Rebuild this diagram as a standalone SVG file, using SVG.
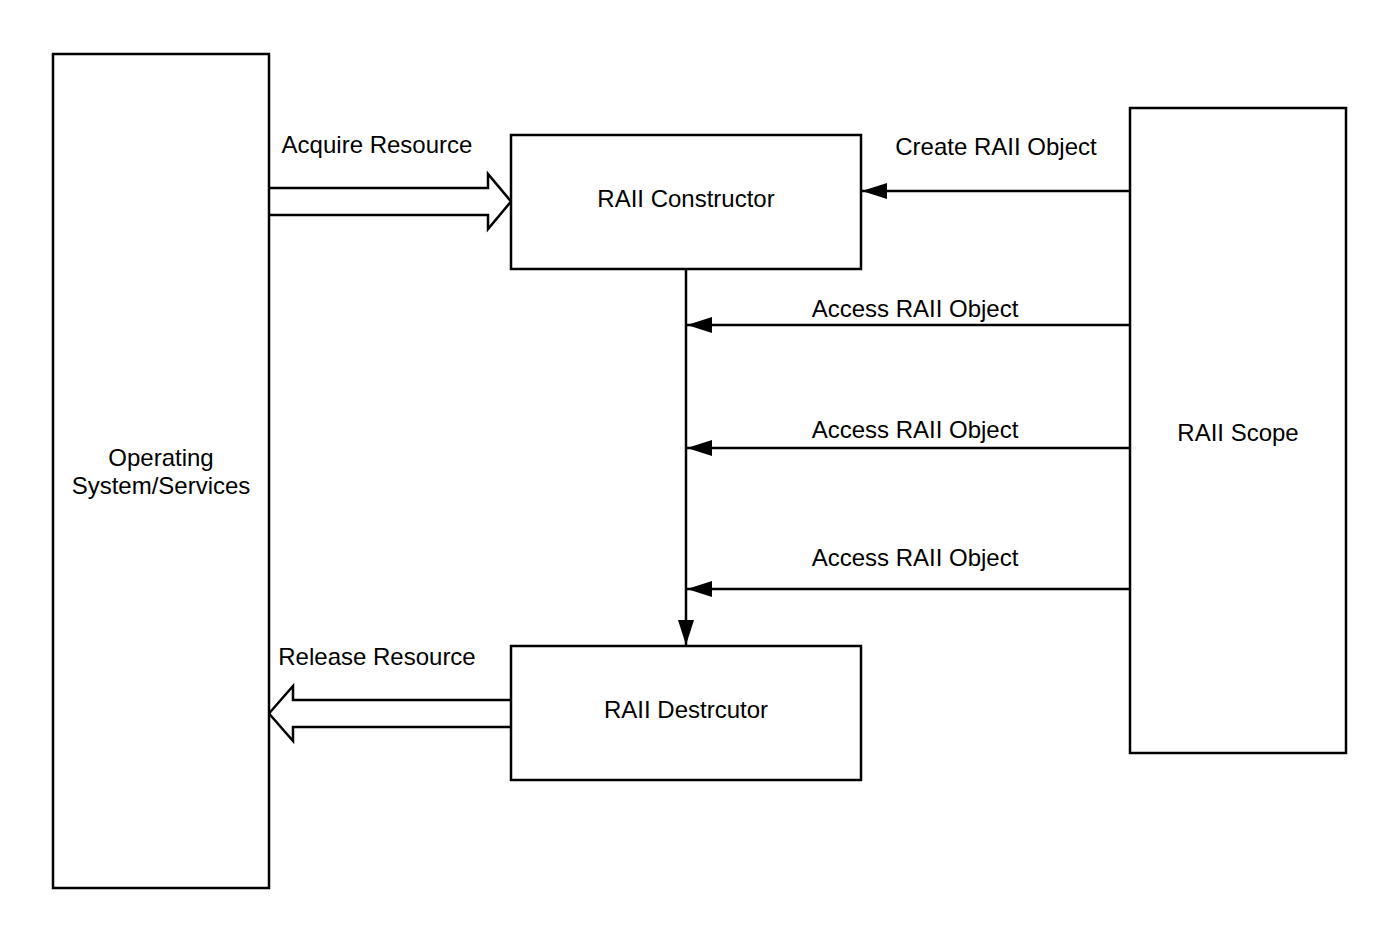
<svg xmlns="http://www.w3.org/2000/svg" width="1400" height="943" viewBox="0 0 1400 943">
<style>
.box{fill:#fff;stroke:#000;stroke-width:2.5}
.t{font-family:"Liberation Sans",Arial,sans-serif;font-size:24px;fill:#000;text-anchor:middle}
.ln{fill:none;stroke:#000;stroke-width:2.5}
.blk{fill:#fff;stroke:#000;stroke-width:2.5;stroke-linejoin:miter}
</style>
<defs>
<marker id="ah" markerUnits="userSpaceOnUse" markerWidth="26" markerHeight="18" viewBox="0 0 26 18" refX="25" refY="9" orient="auto">
<path d="M0,1 L25,9 L0,17 Z" fill="#000"/>
</marker>
</defs>
<rect width="1400" height="943" fill="#fff"/>
<g id="connectors">
<path id="acquire" class="blk" d="M269,188 L488,188 L488,174 L511,201.5 L488,229 L488,215 L269,215"/>
<path id="release" class="blk" d="M511,700 L293,700 L293,686 L269,713.5 L293,741 L293,727 L511,727"/>
<line class="ln" x1="1130" y1="191" x2="862" y2="191" marker-end="url(#ah)"/>
<line class="ln" x1="686" y1="269" x2="686" y2="645" marker-end="url(#ah)"/>
<line class="ln" x1="1130" y1="325" x2="687" y2="325" marker-end="url(#ah)"/>
<line class="ln" x1="1130" y1="448" x2="687" y2="448" marker-end="url(#ah)"/>
<line class="ln" x1="1130" y1="589" x2="687" y2="589" marker-end="url(#ah)"/>
<text class="t" x="377" y="153">Acquire Resource</text>
<text class="t" x="377" y="665">Release Resource</text>
<text class="t" x="996" y="155">Create RAII Object</text>
<text class="t" x="915" y="317">Access RAII Object</text>
<text class="t" x="915" y="438">Access RAII Object</text>
<text class="t" x="915" y="566">Access RAII Object</text>
</g>
<g id="os">
<rect class="box" x="53" y="54" width="216" height="834"/>
<text class="t" x="161" y="465.5">Operating</text>
<text class="t" x="161" y="494">System/Services</text>
</g>
<g id="constructor">
<rect class="box" x="511" y="135" width="350" height="134"/>
<text class="t" x="686" y="206.5">RAII Constructor</text>
</g>
<g id="destructor">
<rect class="box" x="511" y="646" width="350" height="134"/>
<text class="t" x="686" y="718">RAII Destrcutor</text>
</g>
<g id="scope">
<rect class="box" x="1130" y="108" width="216" height="645"/>
<text class="t" x="1238" y="441">RAII Scope</text>
</g>
</svg>
